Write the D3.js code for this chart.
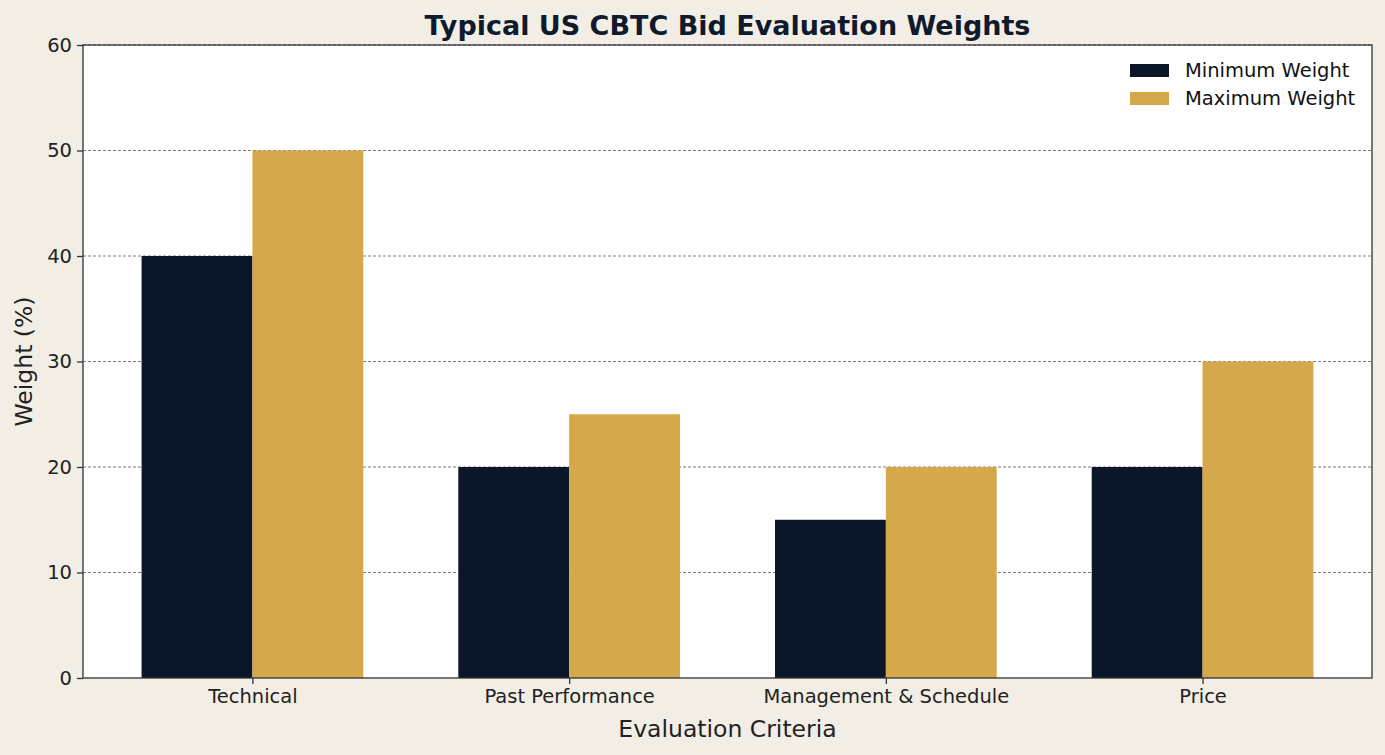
<!DOCTYPE html>
<html>
<head>
<meta charset="utf-8">
<script src="https://cdn.jsdelivr.net/npm/d3@7"></script>
<style>
  body { margin: 0; background: #f2eee6; }
  svg { display: block; font-family: "DejaVu Sans", sans-serif; }
  .grid line { stroke: #444; stroke-width: 0.7; stroke-dasharray: 3,2; }
  .axis path, .axis line { stroke: #333; stroke-width: 1.3; }
</style>
</head>
<body>
<script>
(function(){

    //chart data
    var categories = ["Technical", "Past Performance", "Management & Schedule", "Price"];
    var minWeights = [40, 20, 15, 20];
    var maxWeights = [50, 25, 20, 30];
    var seriesNames = ["Minimum Weight", "Maximum Weight"];
    var seriesColors = ["#0b1628", "#d4a84b"];
    var yTicks = [0, 10, 20, 30, 40, 50, 60];

    var width = 1385, height = 755;
    var margin = {left: 83, right: 13, top: 45, bottom: 77};
    var innerW = width - margin.left - margin.right,
        innerH = height - margin.top - margin.bottom;

    var svg = d3.select("body").append("svg")
        .attr("width", width)
        .attr("height", height);

    svg.append("rect")
        .attr("width", width).attr("height", height)
        .attr("fill", "#f2eee6");

    var g = svg.append("g")
        .attr("transform", "translate(" + margin.left + "," + margin.top + ")");

    //plot background
    g.append("rect")
        .attr("width", innerW).attr("height", innerH)
        .attr("fill", "#ffffff");

    //x is a continuous scale in category units, like matplotlib
    var barW = 0.35;
    var x = d3.scaleLinear()
        .domain([-0.535, categories.length - 1 + 0.535])
        .range([0, innerW]);
    var y = d3.scaleLinear()
        .domain([0, 60])
        .range([innerH, 0]);

    //grid lines
    g.append("g")
        .attr("class", "grid")
        .selectAll("line")
        .data(yTicks.slice(1))
        .enter()
        .append("line")
        .attr("x1", 0).attr("x2", innerW)
        .attr("y1", function(d){ return y(d); })
        .attr("y2", function(d){ return y(d); });

    //bars
    var series = [minWeights, maxWeights];
    series.forEach(function(vals, s){
        g.selectAll(".bar" + s)
            .data(vals)
            .enter()
            .append("rect")
            .attr("class", "bar" + s)
            .attr("x", function(d, i){ return x(i - barW + s * barW); })
            .attr("width", function(){ return x(barW) - x(0); })
            .attr("y", function(d){ return y(d); })
            .attr("height", function(d){ return innerH - y(d); })
            .attr("fill", seriesColors[s]);
    });

    //axes
    var yAxis = d3.axisLeft(y).tickValues(yTicks).tickSize(6).tickPadding(5);
    var ya = g.append("g").attr("class", "axis").call(yAxis);
    ya.select(".domain").remove();

    var xAxis = d3.axisBottom(x)
        .tickValues(d3.range(categories.length))
        .tickFormat(function(d){ return categories[d]; })
        .tickSize(6).tickPadding(5);
    var xa = g.append("g").attr("class", "axis")
        .attr("transform", "translate(0," + innerH + ")")
        .call(xAxis);
    xa.select(".domain").remove();

    g.selectAll(".axis")
        .attr("font-family", null)
        .attr("font-size", null);
    g.selectAll(".axis text")
        .style("font-family", "'DejaVu Sans', sans-serif")
        .style("font-size", "19.5px")
        .style("fill", "#222");

    //frame
    g.append("rect")
        .attr("width", innerW).attr("height", innerH)
        .attr("fill", "none")
        .attr("stroke", "#333")
        .attr("stroke-width", 1.3);

    //labels
    svg.append("text")
        .attr("x", margin.left + innerW / 2)
        .attr("y", 35)
        .attr("text-anchor", "middle")
        .style("font-size", "27px")
        .style("font-weight", "bold")
        .style("fill", "#0f1a2c")
        .text("Typical US CBTC Bid Evaluation Weights");

    svg.append("text")
        .attr("x", margin.left + innerW / 2)
        .attr("y", 737)
        .attr("text-anchor", "middle")
        .style("font-size", "23.5px")
        .style("fill", "#222")
        .text("Evaluation Criteria");

    svg.append("text")
        .attr("transform", "translate(32," + (margin.top + innerH / 2) + ") rotate(-90)")
        .attr("text-anchor", "middle")
        .style("font-size", "23.5px")
        .style("fill", "#222")
        .text("Weight (%)");

    //legend
    var legend = g.selectAll(".legend")
        .data(seriesNames)
        .enter()
        .append("g")
        .attr("class", "legend")
        .attr("transform", function(d, i){
            return "translate(" + (1130 - margin.left) + "," + (64 - margin.top + i * 28) + ")";
        });
    legend.append("rect")
        .attr("width", 39).attr("height", 13)
        .attr("fill", function(d, i){ return seriesColors[i]; });
    legend.append("text")
        .attr("x", 55).attr("y", 13)
        .style("font-size", "19.5px")
        .style("fill", "#111")
        .text(function(d){ return d; });

})();
</script>
</body>
</html>
